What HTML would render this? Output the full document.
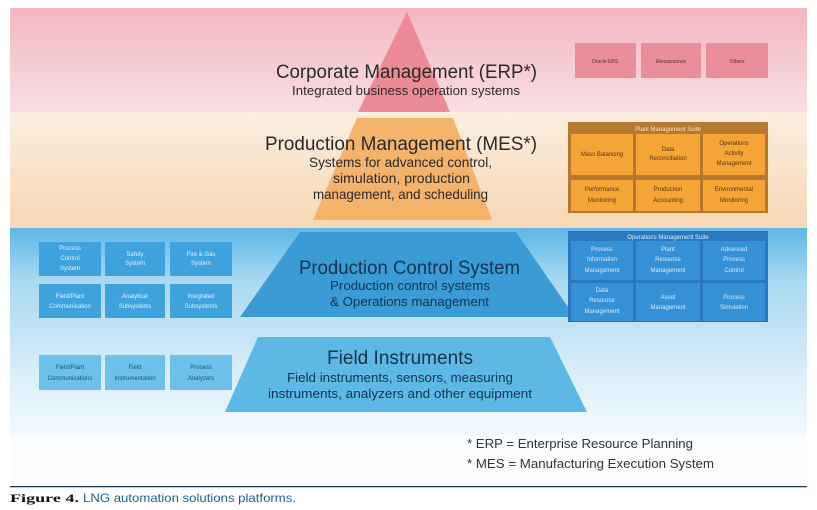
<!DOCTYPE html>
<html><head><style>
body{margin:0;background:#fff;width:817px;height:510px;overflow:hidden}
svg{display:block}
text{font-family:"Liberation Sans",sans-serif}
</style></head><body>
<svg width="817" height="510" viewBox="0 0 817 510">
<defs>
<linearGradient id="pk" x1="0" y1="0" x2="0" y2="1"><stop offset="0" stop-color="#f3b6bf"/><stop offset="1" stop-color="#f9dfe3"/></linearGradient>
<linearGradient id="pc" x1="0" y1="0" x2="0" y2="1"><stop offset="0" stop-color="#faeee0"/><stop offset="1" stop-color="#f8d7b4"/></linearGradient>
<linearGradient id="bl" x1="0" y1="0" x2="0" y2="1"><stop offset="0" stop-color="#5cb6e6"/><stop offset="0.25" stop-color="#a9d8f1"/><stop offset="0.75" stop-color="#dff0fa"/><stop offset="1" stop-color="#f3f9fd"/></linearGradient>
</defs>
<rect x="10" y="8" width="797" height="104" fill="url(#pk)"/>
<rect x="10" y="112" width="797" height="116" fill="url(#pc)"/>
<rect x="10" y="228" width="797" height="208" fill="url(#bl)"/>
<rect x="10" y="436" width="797" height="44" fill="#fafcfe"/>
<polygon points="407,12 358,112 450,112" fill="#ec8a95"/>
<polygon points="357,118 453,118 492,220 313,220" fill="#f4b36a"/>
<polygon points="300,232 516,232 575,317 240,317" fill="#3a9bd5"/>
<polygon points="258,337 550,337 587,412 225,412" fill="#5db8e6"/>
<g fill="#ea8f9a" font-size="5" text-anchor="middle">
<rect x="575" y="43" width="61" height="35"/><rect x="641" y="43" width="60" height="35"/><rect x="706" y="43" width="62" height="35"/>
<text x="605" y="63" fill="#5a2a30">Oracle EBS</text><text x="671" y="63" fill="#5a2a30">iRenaissance</text><text x="737" y="63" fill="#5a2a30">Others</text>
</g>
<rect x="568" y="122" width="200" height="91" fill="#b7782f"/>
<text x="668" y="131" font-size="6" fill="#fbe6c8" text-anchor="middle">Plant Management Suite</text>
<g fill="#f4a535"><rect x="571" y="134" width="62" height="41"/><rect x="636" y="134" width="64" height="41"/><rect x="703" y="134" width="62" height="41"/>
<rect x="571" y="180" width="62" height="31"/><rect x="636" y="180" width="64" height="31"/><rect x="703" y="180" width="62" height="31"/></g>
<g font-size="6" fill="#5a3510" text-anchor="middle">
<text x="602" y="156">Mass Balancing</text>
<text x="668" y="151">Data</text><text x="668" y="160">Reconciliation</text>
<text x="734" y="145">Operations</text><text x="734" y="155">Activity</text><text x="734" y="165">Management</text>
<text x="602" y="191">Performance</text><text x="602" y="202">Monitoring</text>
<text x="668" y="191">Production</text><text x="668" y="202">Accounting</text>
<text x="734" y="191">Environmental</text><text x="734" y="202">Monitoring</text>
</g>
<rect x="568" y="231" width="200" height="91" fill="#2b78c0"/>
<text x="668" y="239" font-size="6" fill="#d8ecfb" text-anchor="middle">Operations Management Suite</text>
<g fill="#3591d6"><rect x="571" y="241" width="62" height="39"/><rect x="636" y="241" width="64" height="39"/><rect x="703" y="241" width="62" height="39"/>
<rect x="571" y="283" width="62" height="38"/><rect x="636" y="283" width="64" height="38"/><rect x="703" y="283" width="62" height="38"/></g>
<g font-size="6" fill="#d5ecfb" text-anchor="middle">
<text x="602" y="251">Process</text><text x="602" y="261">Information</text><text x="602" y="272">Management</text>
<text x="668" y="251">Plant</text><text x="668" y="261">Resource</text><text x="668" y="272">Management</text>
<text x="734" y="251">Advanced</text><text x="734" y="261">Process</text><text x="734" y="272">Control</text>
<text x="602" y="292">Data</text><text x="602" y="302">Resource</text><text x="602" y="313">Management</text>
<text x="668" y="299">Asset</text><text x="668" y="309">Management</text>
<text x="734" y="299">Process</text><text x="734" y="309">Simulation</text>
</g>
<g fill="#3ea2dd"><rect x="39" y="242" width="62" height="34"/><rect x="105" y="242" width="60" height="34"/><rect x="170" y="242" width="62" height="34"/>
<rect x="39" y="284" width="62" height="34"/><rect x="105" y="284" width="60" height="34"/><rect x="170" y="284" width="62" height="34"/></g>
<g fill="#6cc0ea"><rect x="39" y="355" width="62" height="35"/><rect x="105" y="355" width="60" height="35"/><rect x="170" y="355" width="62" height="35"/></g>
<g font-size="6" fill="#e2f3fc" text-anchor="middle">
<text x="70" y="250">Process</text><text x="70" y="260">Control</text><text x="70" y="270">System</text>
<text x="135" y="256">Safety</text><text x="135" y="265">System</text>
<text x="201" y="256">Fire &amp; Gas</text><text x="201" y="265">System</text>
<text x="70" y="298">Field/Plant</text><text x="70" y="308">Communication</text>
<text x="135" y="298">Analytical</text><text x="135" y="308">Subsystems</text>
<text x="201" y="298">Integrated</text><text x="201" y="308">Subsystems</text>
</g>
<g font-size="6" fill="#1d4f78" text-anchor="middle">
<text x="70" y="369">Field/Plant</text><text x="70" y="380">Communications</text>
<text x="135" y="369">Field</text><text x="135" y="380">Instrumentation</text>
<text x="201" y="369">Process</text><text x="201" y="380">Analyzers</text>
</g>
<g fill="#2a2a2a">
<text x="276" y="78" font-size="19" textLength="261" lengthAdjust="spacingAndGlyphs">Corporate Management (ERP*)</text>
<text x="292" y="95" font-size="13" textLength="228" lengthAdjust="spacingAndGlyphs">Integrated business operation systems</text>
<text x="265" y="150" font-size="19" textLength="272" lengthAdjust="spacingAndGlyphs">Production Management (MES*)</text>
<text x="309" y="167" font-size="14" textLength="183" lengthAdjust="spacingAndGlyphs">Systems for advanced control,</text>
<text x="333" y="183" font-size="14" textLength="137" lengthAdjust="spacingAndGlyphs">simulation, production</text>
<text x="313" y="199" font-size="14" textLength="175" lengthAdjust="spacingAndGlyphs">management, and scheduling</text>
</g>
<g fill="#15334d">
<text x="299" y="274" font-size="19" textLength="221" lengthAdjust="spacingAndGlyphs">Production Control System</text>
<text x="330" y="290" font-size="13" textLength="160" lengthAdjust="spacingAndGlyphs">Production control systems</text>
<text x="330" y="306" font-size="13" textLength="159" lengthAdjust="spacingAndGlyphs">&amp; Operations management</text>
<text x="327" y="364" font-size="19" textLength="146" lengthAdjust="spacingAndGlyphs">Field Instruments</text>
<text x="287" y="382" font-size="13" textLength="226" lengthAdjust="spacingAndGlyphs">Field instruments, sensors, measuring</text>
<text x="268" y="398" font-size="13" textLength="264" lengthAdjust="spacingAndGlyphs">instruments, analyzers and other equipment</text>
</g>
<g fill="#333" font-size="13">
<text x="467" y="448" textLength="226" lengthAdjust="spacingAndGlyphs">* ERP = Enterprise Resource Planning</text>
<text x="467" y="468" textLength="247" lengthAdjust="spacingAndGlyphs">* MES = Manufacturing Execution System</text>
</g>
<rect x="10" y="486" width="797" height="1.3" fill="#1f3f5f"/>
<text x="10" y="502" font-size="12" font-weight="bold" fill="#111" style="font-family:'Liberation Serif',serif" textLength="69" lengthAdjust="spacingAndGlyphs">Figure 4.</text>
<text x="83" y="502" font-size="12" fill="#1d5f9a" textLength="213" lengthAdjust="spacingAndGlyphs">LNG automation solutions platforms.</text>
</svg>
</body></html>
